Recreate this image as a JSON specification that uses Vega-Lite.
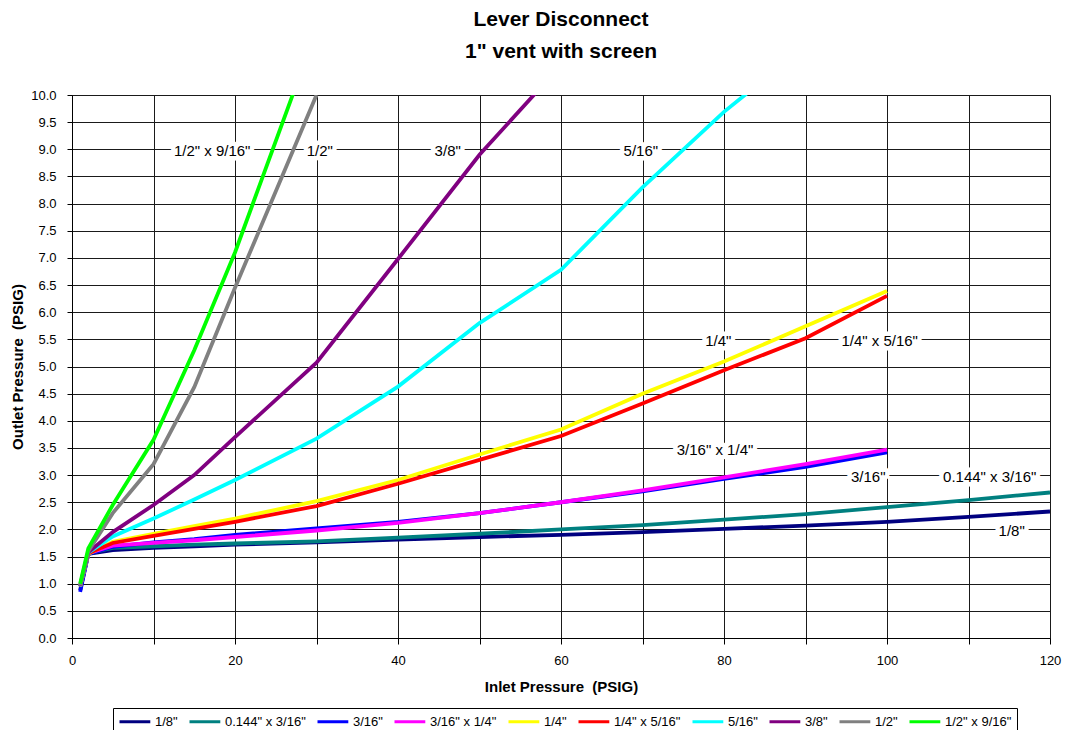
{
  "$schema": "https://vega.github.io/schema/vega-lite/v6.json",
  "width": 978,
  "height": 543,
  "autosize": {"type": "none"},
  "padding": {"left": 72, "top": 95, "right": 28, "bottom": 92},
  "background": "white",
  "title": {
    "text": ["Lever Disconnect", "1\" vent with screen"],
    "font": "Liberation Sans",
    "fontSize": 21,
    "fontWeight": "bold",
    "lineHeight": 32,
    "offset": 27,
    "anchor": "middle",
    "color": "black"
  },
  "config": {
    "view": {"stroke": "#808080", "strokeWidth": 1},
    "axis": {
      "labelFont": "Liberation Sans",
      "titleFont": "Liberation Sans",
      "labelColor": "black",
      "titleColor": "black",
      "labelFontSize": 13,
      "titleFontSize": 15,
      "titleFontWeight": "bold",
      "gridColor": "#1a1a1a",
      "gridOpacity": 1,
      "domainColor": "black",
      "tickColor": "black",
      "labelOverlap": false,
      "labelFlush": false
    }
  },
  "datasets": {
    "series": [
      {"s": "1/8\"", "x": 1, "y": 0.88}, {"s": "1/8\"", "x": 2, "y": 1.55}, {"s": "1/8\"", "x": 5, "y": 1.62}, {"s": "1/8\"", "x": 10, "y": 1.66}, {"s": "1/8\"", "x": 15, "y": 1.69}, {"s": "1/8\"", "x": 20, "y": 1.72}, {"s": "1/8\"", "x": 30, "y": 1.76}, {"s": "1/8\"", "x": 40, "y": 1.81}, {"s": "1/8\"", "x": 50, "y": 1.86}, {"s": "1/8\"", "x": 60, "y": 1.9}, {"s": "1/8\"", "x": 70, "y": 1.95}, {"s": "1/8\"", "x": 80, "y": 2.01}, {"s": "1/8\"", "x": 90, "y": 2.07}, {"s": "1/8\"", "x": 100, "y": 2.14}, {"s": "1/8\"", "x": 110, "y": 2.23}, {"s": "1/8\"", "x": 120, "y": 2.33},
      {"s": "0.144\" x 3/16\"", "x": 1, "y": 0.95}, {"s": "0.144\" x 3/16\"", "x": 2, "y": 1.56}, {"s": "0.144\" x 3/16\"", "x": 5, "y": 1.66}, {"s": "0.144\" x 3/16\"", "x": 10, "y": 1.69}, {"s": "0.144\" x 3/16\"", "x": 15, "y": 1.72}, {"s": "0.144\" x 3/16\"", "x": 20, "y": 1.74}, {"s": "0.144\" x 3/16\"", "x": 30, "y": 1.78}, {"s": "0.144\" x 3/16\"", "x": 40, "y": 1.85}, {"s": "0.144\" x 3/16\"", "x": 50, "y": 1.92}, {"s": "0.144\" x 3/16\"", "x": 60, "y": 2.0}, {"s": "0.144\" x 3/16\"", "x": 70, "y": 2.08}, {"s": "0.144\" x 3/16\"", "x": 80, "y": 2.18}, {"s": "0.144\" x 3/16\"", "x": 90, "y": 2.28}, {"s": "0.144\" x 3/16\"", "x": 100, "y": 2.41}, {"s": "0.144\" x 3/16\"", "x": 110, "y": 2.54}, {"s": "0.144\" x 3/16\"", "x": 120, "y": 2.68},
      {"s": "3/16\"", "x": 1, "y": 0.85}, {"s": "3/16\"", "x": 2, "y": 1.55}, {"s": "3/16\"", "x": 5, "y": 1.68}, {"s": "3/16\"", "x": 10, "y": 1.76}, {"s": "3/16\"", "x": 15, "y": 1.82}, {"s": "3/16\"", "x": 20, "y": 1.9}, {"s": "3/16\"", "x": 30, "y": 2.02}, {"s": "3/16\"", "x": 40, "y": 2.14}, {"s": "3/16\"", "x": 50, "y": 2.3}, {"s": "3/16\"", "x": 60, "y": 2.5}, {"s": "3/16\"", "x": 70, "y": 2.7}, {"s": "3/16\"", "x": 80, "y": 2.93}, {"s": "3/16\"", "x": 90, "y": 3.15}, {"s": "3/16\"", "x": 100, "y": 3.42},
      {"s": "3/16\" x 1/4\"", "x": 1, "y": 0.95}, {"s": "3/16\" x 1/4\"", "x": 2, "y": 1.56}, {"s": "3/16\" x 1/4\"", "x": 5, "y": 1.7}, {"s": "3/16\" x 1/4\"", "x": 10, "y": 1.75}, {"s": "3/16\" x 1/4\"", "x": 15, "y": 1.8}, {"s": "3/16\" x 1/4\"", "x": 20, "y": 1.86}, {"s": "3/16\" x 1/4\"", "x": 30, "y": 1.98}, {"s": "3/16\" x 1/4\"", "x": 40, "y": 2.12}, {"s": "3/16\" x 1/4\"", "x": 50, "y": 2.3}, {"s": "3/16\" x 1/4\"", "x": 60, "y": 2.5}, {"s": "3/16\" x 1/4\"", "x": 70, "y": 2.72}, {"s": "3/16\" x 1/4\"", "x": 80, "y": 2.96}, {"s": "3/16\" x 1/4\"", "x": 90, "y": 3.2}, {"s": "3/16\" x 1/4\"", "x": 100, "y": 3.47},
      {"s": "1/4\"", "x": 1, "y": 0.95}, {"s": "1/4\"", "x": 2, "y": 1.55}, {"s": "1/4\"", "x": 5, "y": 1.77}, {"s": "1/4\"", "x": 10, "y": 1.92}, {"s": "1/4\"", "x": 15, "y": 2.06}, {"s": "1/4\"", "x": 20, "y": 2.2}, {"s": "1/4\"", "x": 30, "y": 2.52}, {"s": "1/4\"", "x": 40, "y": 2.91}, {"s": "1/4\"", "x": 50, "y": 3.38}, {"s": "1/4\"", "x": 60, "y": 3.84}, {"s": "1/4\"", "x": 70, "y": 4.5}, {"s": "1/4\"", "x": 80, "y": 5.09}, {"s": "1/4\"", "x": 90, "y": 5.74}, {"s": "1/4\"", "x": 100, "y": 6.39},
      {"s": "1/4\" x 5/16\"", "x": 1, "y": 0.95}, {"s": "1/4\" x 5/16\"", "x": 2, "y": 1.56}, {"s": "1/4\" x 5/16\"", "x": 5, "y": 1.75}, {"s": "1/4\" x 5/16\"", "x": 10, "y": 1.88}, {"s": "1/4\" x 5/16\"", "x": 15, "y": 2.01}, {"s": "1/4\" x 5/16\"", "x": 20, "y": 2.14}, {"s": "1/4\" x 5/16\"", "x": 30, "y": 2.43}, {"s": "1/4\" x 5/16\"", "x": 40, "y": 2.84}, {"s": "1/4\" x 5/16\"", "x": 50, "y": 3.28}, {"s": "1/4\" x 5/16\"", "x": 60, "y": 3.72}, {"s": "1/4\" x 5/16\"", "x": 70, "y": 4.32}, {"s": "1/4\" x 5/16\"", "x": 80, "y": 4.93}, {"s": "1/4\" x 5/16\"", "x": 90, "y": 5.52}, {"s": "1/4\" x 5/16\"", "x": 100, "y": 6.3},
      {"s": "5/16\"", "x": 1, "y": 0.95}, {"s": "5/16\"", "x": 2, "y": 1.57}, {"s": "5/16\"", "x": 5, "y": 1.87}, {"s": "5/16\"", "x": 10, "y": 2.2}, {"s": "5/16\"", "x": 15, "y": 2.55}, {"s": "5/16\"", "x": 20, "y": 2.91}, {"s": "5/16\"", "x": 30, "y": 3.67}, {"s": "5/16\"", "x": 40, "y": 4.63}, {"s": "5/16\"", "x": 50, "y": 5.8}, {"s": "5/16\"", "x": 60, "y": 6.78}, {"s": "5/16\"", "x": 70, "y": 8.3}, {"s": "5/16\"", "x": 80, "y": 9.69}, {"s": "5/16\"", "x": 90, "y": 10.9},
      {"s": "3/8\"", "x": 1, "y": 0.96}, {"s": "3/8\"", "x": 2, "y": 1.58}, {"s": "3/8\"", "x": 5, "y": 1.95}, {"s": "3/8\"", "x": 10, "y": 2.45}, {"s": "3/8\"", "x": 15, "y": 3.0}, {"s": "3/8\"", "x": 20, "y": 3.7}, {"s": "3/8\"", "x": 30, "y": 5.07}, {"s": "3/8\"", "x": 40, "y": 6.98}, {"s": "3/8\"", "x": 50, "y": 8.9}, {"s": "3/8\"", "x": 60, "y": 10.55},
      {"s": "1/2\"", "x": 1, "y": 0.97}, {"s": "1/2\"", "x": 2, "y": 1.6}, {"s": "1/2\"", "x": 5, "y": 2.3}, {"s": "1/2\"", "x": 10, "y": 3.2}, {"s": "1/2\"", "x": 15, "y": 4.62}, {"s": "1/2\"", "x": 20, "y": 6.45}, {"s": "1/2\"", "x": 30, "y": 10.0},
      {"s": "1/2\" x 9/16\"", "x": 1, "y": 1.0}, {"s": "1/2\" x 9/16\"", "x": 2, "y": 1.65}, {"s": "1/2\" x 9/16\"", "x": 5, "y": 2.45}, {"s": "1/2\" x 9/16\"", "x": 10, "y": 3.65}, {"s": "1/2\" x 9/16\"", "x": 15, "y": 5.3}, {"s": "1/2\" x 9/16\"", "x": 20, "y": 7.1}, {"s": "1/2\" x 9/16\"", "x": 30, "y": 11.2}
    ],
    "labels": [
      {"label": "1/2\" x 9/16\"", "x": 17.2, "y": 9.0},
      {"label": "1/2\"", "x": 30.4, "y": 9.0},
      {"label": "3/8\"", "x": 46.1, "y": 9.0},
      {"label": "5/16\"", "x": 69.8, "y": 9.0},
      {"label": "1/4\"", "x": 79.3, "y": 5.5},
      {"label": "1/4\" x 5/16\"", "x": 99.1, "y": 5.5},
      {"label": "3/16\" x 1/4\"", "x": 78.9, "y": 3.5},
      {"label": "3/16\"", "x": 97.7, "y": 3.0},
      {"label": "0.144\" x 3/16\"", "x": 112.6, "y": 3.0},
      {"label": "1/8\"", "x": 115.3, "y": 2.0}
    ]
  },
  "encoding": {
    "x": {
      "field": "x", "type": "quantitative",
      "scale": {"domain": [0, 120], "nice": false, "zero": true},
      "axis": {
        "title": "Inlet Pressure\u00a0\u00a0(PSIG)",
        "values": [0, 10, 20, 30, 40, 50, 60, 70, 80, 90, 100, 110, 120],
        "labelExpr": "datum.value % 20 === 0 ? datum.label : ''",
        "tickSize": 6,
        "labelPadding": 10,
        "titlePadding": 12
      }
    },
    "y": {
      "field": "y", "type": "quantitative",
      "scale": {"domain": [0, 10], "nice": false},
      "axis": {
        "title": "Outlet Pressure\u00a0\u00a0(PSIG)",
        "values": [0, 0.5, 1, 1.5, 2, 2.5, 3, 3.5, 4, 4.5, 5, 5.5, 6, 6.5, 7, 7.5, 8, 8.5, 9, 9.5, 10],
        "format": ".1f",
        "tickSize": 5,
        "labelPadding": 11,
        "titlePadding": 5
      }
    }
  },
  "layer": [
    {
      "data": {"name": "series"},
      "mark": {"type": "line", "strokeWidth": 3.8, "clip": true},
      "encoding": {
        "color": {
          "field": "s", "type": "nominal",
          "scale": {
            "domain": ["1/8\"", "0.144\" x 3/16\"", "3/16\"", "3/16\" x 1/4\"", "1/4\"", "1/4\" x 5/16\"", "5/16\"", "3/8\"", "1/2\"", "1/2\" x 9/16\""],
            "range": ["#000080", "#008080", "#0000FF", "#FF00FF", "#FFFF00", "#FF0000", "#00FFFF", "#800080", "#808080", "#00FF00"]
          },
          "legend": {
            "title": null,
            "orient": "none",
            "legendX": 41,
            "legendY": 613,
            "direction": "horizontal",
            "columns": 10,
            "padding": 5,
            "strokeColor": "black",
            "fillColor": "white",
            "symbolType": "M-1,0H3.4",
            "symbolSize": 196,
            "symbolStrokeWidth": 3,
            "labelFont": "Liberation Sans",
            "labelFontSize": 13,
            "labelColor": "black",
            "labelOffset": 20,
            "columnPadding": 5
          }
        }
      }
    },
    {
      "data": {"name": "labels"},
      "mark": {"type": "text", "font": "Liberation Sans", "fontSize": 15, "fill": "white", "stroke": "white", "strokeWidth": 9, "strokeJoin": "round", "dy": 2},
      "encoding": {
        "text": {"field": "label"}
      }
    },
    {
      "data": {"name": "labels"},
      "mark": {"type": "text", "font": "Liberation Sans", "fontSize": 15, "fill": "black", "dy": 2},
      "encoding": {
        "text": {"field": "label"}
      }
    }
  ]
}
